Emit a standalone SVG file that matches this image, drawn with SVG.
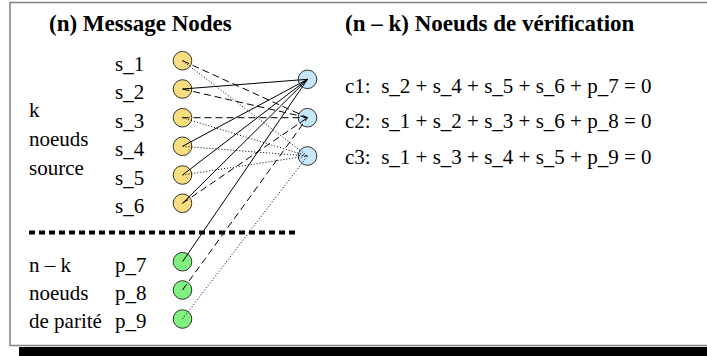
<svg xmlns="http://www.w3.org/2000/svg" width="707" height="356" viewBox="0 0 707 356" font-family="'Liberation Serif', 'Times New Roman', serif">
<style>
.t{font-family:'Liberation Serif','Times New Roman',serif;font-size:23px;font-weight:bold;fill:#000}
.l{font-family:'Liberation Serif','Times New Roman',serif;font-size:21px;fill:#000}
.s{fill:#f8de7e;stroke:#333;stroke-width:1}
.p{fill:#80f080;stroke:#333;stroke-width:1}
.c{fill:#c6e6fa;stroke:#333;stroke-width:1}
.e{stroke:#000;stroke-width:1;fill:none}
.d{stroke-dasharray:7 4}
.o{stroke-dasharray:1 2}
</style>
<rect x="10" y="2.5" width="720" height="343" fill="#fff" stroke="#808080" stroke-width="1.5"/>
<rect x="19" y="347" width="700" height="10" fill="#000"/>
<text class="t" x="49" y="31">(n) Message Nodes</text>
<text class="t" x="345" y="31">(n – k) Noeuds de vérification</text>
<g id="left-labels">
<text class="l" x="29" y="117">k</text>
<text class="l" x="29" y="146">noeuds</text>
<text class="l" x="29" y="175">source</text>
<text class="l" x="29" y="271.5">n – k</text>
<text class="l" x="29" y="300">noeuds</text>
<text class="l" x="29" y="328">de parité</text>
</g>
<line x1="29" y1="232.5" x2="298" y2="232.5" stroke="#000" stroke-width="4" stroke-dasharray="6 4"/>
<g id="s1"><circle class="s" cx="182.5" cy="60.7" r="9.3"/><text class="l" x="115" y="70.5">s_1</text></g>
<g id="s2"><circle class="s" cx="182.5" cy="89" r="9.3"/><text class="l" x="115" y="99">s_2</text></g>
<g id="s3"><circle class="s" cx="182.5" cy="117.7" r="9.3"/><text class="l" x="115" y="127.5">s_3</text></g>
<g id="s4"><circle class="s" cx="182.5" cy="146.3" r="9.3"/><text class="l" x="115" y="156">s_4</text></g>
<g id="s5"><circle class="s" cx="182.5" cy="175" r="9.3"/><text class="l" x="115" y="184.5">s_5</text></g>
<g id="s6"><circle class="s" cx="182.5" cy="203.3" r="9.3"/><text class="l" x="115" y="213">s_6</text></g>
<g id="p7"><circle class="p" cx="182.5" cy="261.7" r="9.3"/><text class="l" x="115" y="271.5">p_7</text></g>
<g id="p8"><circle class="p" cx="182.5" cy="290" r="9.3"/><text class="l" x="115" y="300">p_8</text></g>
<g id="p9"><circle class="p" cx="182.5" cy="319" r="9.3"/><text class="l" x="115" y="328">p_9</text></g>
<g id="c1"><circle class="c" cx="307.5" cy="79.3" r="9.3"/><text class="l" x="345" y="92.5">c1:&#160; s_2 + s_4 + s_5 + s_6 + p_7 = 0</text></g>
<g id="c2"><circle class="c" cx="307.5" cy="117.7" r="9.3"/><text class="l" x="345" y="127.5">c2:&#160; s_1 + s_2 + s_3 + s_6 + p_8 = 0</text></g>
<g id="c3"><circle class="c" cx="307.5" cy="156" r="9.3"/><text class="l" x="345" y="163.5">c3:&#160; s_1 + s_3 + s_4 + s_5 + p_9 = 0</text></g>
<g id="connectors">
<line class="e" x1="182.5" y1="89" x2="307.5" y2="79.3"/>
<line class="e" x1="182.5" y1="146.3" x2="307.5" y2="79.3"/>
<line class="e" x1="182.5" y1="175" x2="307.5" y2="79.3"/>
<line class="e" x1="182.5" y1="203.3" x2="307.5" y2="79.3"/>
<line class="e" x1="182.5" y1="261.7" x2="307.5" y2="79.3"/>
<line class="e d" x1="182.5" y1="60.7" x2="307.5" y2="117.7"/>
<line class="e d" x1="182.5" y1="89" x2="307.5" y2="117.7"/>
<line class="e d" x1="182.5" y1="117.7" x2="307.5" y2="117.7"/>
<line class="e d" x1="182.5" y1="203.3" x2="307.5" y2="117.7"/>
<line class="e d" x1="182.5" y1="290" x2="307.5" y2="117.7"/>
<line class="e o" x1="182.5" y1="60.7" x2="307.5" y2="156"/>
<line class="e o" x1="182.5" y1="117.7" x2="307.5" y2="156"/>
<line class="e o" x1="182.5" y1="146.3" x2="307.5" y2="156"/>
<line class="e o" x1="182.5" y1="175" x2="307.5" y2="156"/>
<line class="e o" x1="182.5" y1="319" x2="307.5" y2="156"/>
</g>
</svg>
